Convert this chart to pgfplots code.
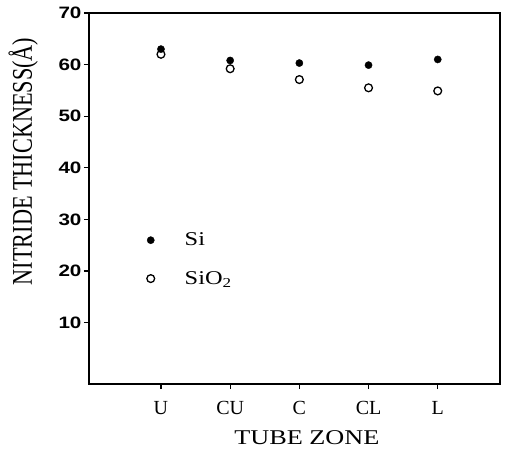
\documentclass[border=0pt]{standalone}
\usepackage{pgfplots}
\pgfplotsset{compat=1.18}
\usepackage{fontspec}
\setmainfont{Liberation Serif}
\newfontfamily\tickfont{Liberation Sans}[FakeStretch=1.25]
\newfontfamily\wideserif{Liberation Serif}[FakeStretch=1.25]
\newfontfamily\tallserif{Liberation Serif}[FakeStretch=0.78]

\begin{document}
\begin{tikzpicture}
\path[use as bounding box] (-89pt,-88pt) rectangle (416pt,384pt);
\begin{axis}[
  at={(0,0)}, anchor=south west,
  scale only axis,
  width=411pt, height=371pt,
  xmin=-0.04, xmax=5.9,
  ymin=-1.9, ymax=70,
  xtick={1,2,3,4,5},
  xticklabels={U,CU,C,CL,L},
  ytick={10,20,30,40,50,60,70},
  tick pos=left,
  tick align=outside,
  major tick length=5pt,
  tick style={black, line width=1.2pt},
  axis line style={line width=1.8pt},
  /pgf/number format/assume math mode=true,
  yticklabel style={font=\tickfont\bfseries\fontsize{16.5}{18}\selectfont, xshift=1pt},
  xticklabel style={font=\fontsize{20}{22}\selectfont, yshift=-9pt},
  xlabel={TUBE ZONE},
  xlabel style={font=\wideserif\fontsize{21}{24}\selectfont, at={(axis description cs:0.53,-0.145)}, anchor=center},
  ylabel={NITRIDE THICKNESS(Å)},
  ylabel style={font=\tallserif\fontsize{28.5}{30}\selectfont, at={(axis description cs:-0.16,0.6)}, anchor=center},
  legend style={at={(axis description cs:0.14,0.413)}, anchor=north west, draw=none, fill=none, inner sep=0pt,
    font=\wideserif\fontsize{19.5}{22}\selectfont, row sep=20pt},
  legend cell align=left,
  legend image code/.code={\draw[#1] plot coordinates {(4pt,0pt)}; \path[draw=none] (0pt,0pt) -- (36pt,0pt);},
]
\addplot[only marks, mark=*, mark size=3.6pt, black] coordinates {
  (1,63.0) (2,60.8) (3,60.3) (4,59.9) (5,61.0)
};
\addlegendentry{Si}
\addplot[only marks, mark=o, mark size=3.9pt, black, line width=1.3pt] coordinates {
  (1,62.0) (2,59.2) (3,57.1) (4,55.5) (5,54.9)
};
\addlegendentry{SiO\textsubscript{2}}
\end{axis}
\end{tikzpicture}
\end{document}
